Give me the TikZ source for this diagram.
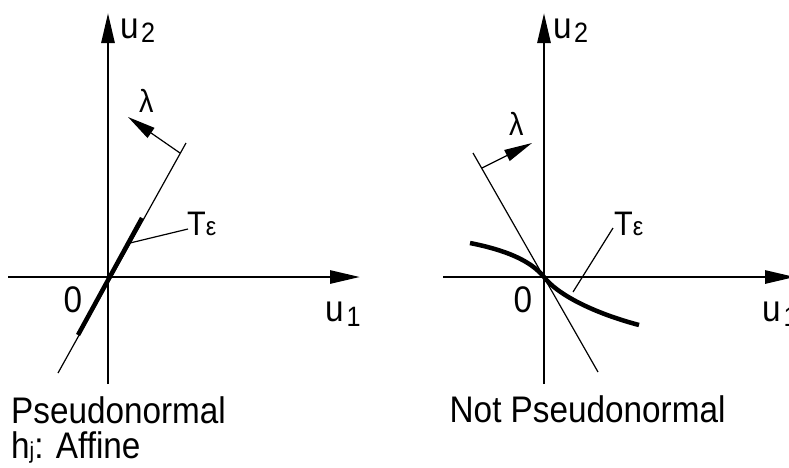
\documentclass[tikz,border=0pt]{standalone}
\usepackage{fontspec}
\setmainfont{Liberation Sans}[FakeStretch=0.9]
\usetikzlibrary{arrows.meta}
\begin{document}
\begin{tikzpicture}[x=1pt,y=-1pt,
  axisline/.style={line width=2.8pt,-{Triangle[length=30pt,width=13pt]}},
  thinline/.style={line width=1.2pt},
  thickline/.style={line width=4.5pt},
  lamarrow/.style={line width=1.2pt,-{Triangle[length=28pt,width=12pt]}},
  lbl/.style={inner sep=0pt,anchor=base west,font=\fontsize{37}{40}\selectfont},
  sublbl/.style={inner sep=0pt,anchor=base west,font=\fontsize{34}{36}\selectfont}
]
\useasboundingbox (0,0) rectangle (789,467);
% ---------- left diagram ----------
\coordinate (O1) at (108,277);
\coordinate (v1b) at (108,384);
\coordinate (v1t) at (108,13);
\coordinate (h1l) at (8,277);
\coordinate (h1r) at (360,277);
\draw[axisline] (v1b) -- (v1t);
\draw[axisline] (h1l) -- (h1r);
\coordinate (L1a) at (58,373);
\coordinate (L1b) at (186,143);
\draw[thinline] (L1a) -- (L1b);
\coordinate (K1a) at (78,335);
\coordinate (K1b) at (142,218);
\draw[thickline] (K1a) -- (K1b);
\coordinate (T1s) at (130,243);
\coordinate (T1e) at (188,229);
\draw[thinline] (T1s) -- (T1e);
\coordinate (M1s) at (180,153);
\coordinate (M1e) at (128,117);
\draw[lamarrow] (M1s) -- (M1e);
\node[lbl] (u2a) at (120,38) {u\kern2.5pt\raisebox{-4pt}{\fontsize{28}{28}\selectfont 2}};
\node[lbl] (u1a) at (325,321) {u\kern3pt\raisebox{-5pt}{\fontsize{28}{28}\selectfont 1}};
\node[lbl] (zeroa) at (63.5,312) {0};
\node[sublbl] (tea) at (187,235) {T\fontsize{26}{26}\selectfont ε};
\node[lbl] (lama) at (139,112) {\fontsize{32}{32}\selectfont λ};
\node[lbl] (capa) at (11,423) {Pseudonormal};
\node[lbl] (capb) at (11,458) {h\fontsize{23}{23}\selectfont j\fontsize{37}{40}\selectfont: Affine};
% ---------- right diagram ----------
\coordinate (O2) at (544,277);
\coordinate (v2b) at (544,384);
\coordinate (v2t) at (544,13);
\coordinate (h2l) at (443,277);
\coordinate (h2r) at (795,277);
\draw[axisline] (v2b) -- (v2t);
\draw[axisline] (h2l) -- (h2r);
\coordinate (L2a) at (473,153);
\coordinate (L2b) at (598,372);
\draw[thinline] (L2a) -- (L2b);
\coordinate (C2a) at (470,243);
\coordinate (C2b) at (639,325);
\draw[thickline] (C2a) .. controls (505,250) and (530,260) .. (O2)
  .. controls (556,293) and (590,312) .. (C2b);
\coordinate (T2s) at (573,292);
\coordinate (T2e) at (613,228);
\draw[thinline] (T2s) -- (T2e);
\coordinate (M2s) at (482,168);
\coordinate (M2e) at (532,143);
\draw[lamarrow] (M2s) -- (M2e);
\node[lbl] (u2b) at (553,38) {u\kern2.5pt\raisebox{-4pt}{\fontsize{28}{28}\selectfont 2}};
\node[lbl] (u1b) at (762,321) {u\kern3pt\raisebox{-5pt}{\fontsize{28}{28}\selectfont 1}};
\node[lbl] (zerob) at (513.5,312) {0};
\node[sublbl] (teb) at (614,235) {T\fontsize{26}{26}\selectfont ε};
\node[lbl] (lamb) at (509,135) {\fontsize{32}{32}\selectfont λ};
\node[lbl] (capc) at (449.5,422) {Not Pseudonormal};
\end{tikzpicture}
\end{document}
